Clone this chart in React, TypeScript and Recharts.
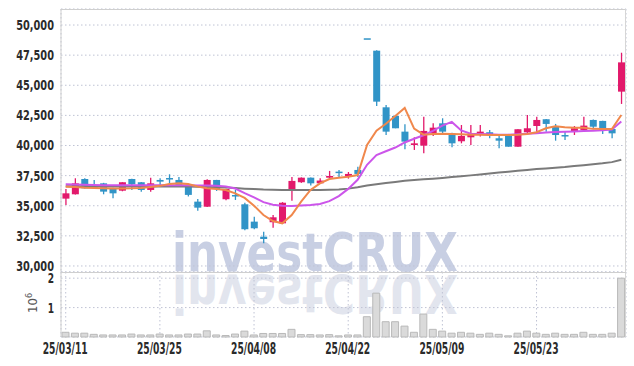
import { Bar, BarChart, CartesianGrid, ComposedChart, Line, XAxis, YAxis } from 'recharts'

const dates = [
  '25/03/11', '25/03/12', '25/03/13', '25/03/14', '25/03/17', '25/03/18', '25/03/19', '25/03/20', '25/03/21', '25/03/24',
  '25/03/25', '25/03/26', '25/03/27', '25/03/28', '25/03/31', '25/04/01', '25/04/02', '25/04/03', '25/04/04', '25/04/07',
  '25/04/08', '25/04/09', '25/04/10', '25/04/11', '25/04/14', '25/04/15', '25/04/16', '25/04/17', '25/04/18', '25/04/21',
  '25/04/22', '25/04/23', '25/04/24', '25/04/25', '25/04/28', '25/04/29', '25/04/30', '25/05/02', '25/05/07', '25/05/08',
  '25/05/09', '25/05/12', '25/05/13', '25/05/14', '25/05/15', '25/05/16', '25/05/19', '25/05/20', '25/05/21', '25/05/22',
  '25/05/23', '25/05/26', '25/05/27', '25/05/28', '25/05/29', '25/05/30', '25/06/02', '25/06/04', '25/06/05', '25/06/09',
]

const opens = [
  35590, 35950, 37220, 36600, 36860, 36450, 36250, 37220, 36950, 36310,
  37140, 37300, 37140, 36670, 35340, 34920, 37140, 35540, 35890, 35120,
  33680, 32430, 33630, 33540, 36310, 36950, 37330, 36860, 37330, 37830,
  37410, 37970, 48900, 47870, 43170, 42450, 41150, 40040, 39990, 41010,
  41840, 41010, 40350, 40680, 40960, 41100, 40600, 40790, 39900, 41100,
  41620, 42180, 41560, 40870, 41150, 41290, 42120, 42040, 41370, 44470,
]
const highs = [
  36390, 37280, 37280, 37140, 36900, 36500, 36950, 37250, 36970, 37330,
  37280, 37610, 37390, 36700, 35560, 37200, 37150, 36400, 36310, 35250,
  34090, 32850, 34230, 35300, 37390, 37350, 37350, 37280, 37890, 37970,
  37800, 38240, 48900, 47900, 43360, 42500, 41760, 40680, 42390, 41840,
  42260, 41050, 41700, 41700, 41700, 41290, 40790, 40800, 41350, 42530,
  42390, 42200, 41790, 41150, 41620, 42390, 42150, 42050, 41400, 47700,
]
const lows = [
  35060, 35930, 36430, 36390, 35950, 35620, 36200, 36310, 36170, 36170,
  36580, 36860, 36600, 35770, 34590, 34900, 36230, 35450, 35480, 32960,
  33050, 31880, 33180, 33500, 35420, 36900, 36670, 36810, 37280, 37390,
  37250, 37390, 48900, 43280, 40870, 41430, 39690, 39630, 39350, 40790,
  41000, 39850, 40180, 40040, 40740, 40600, 39770, 39900, 39900, 41010,
  41150, 41150, 40400, 40460, 40870, 41150, 41350, 40960, 40600, 43450,
]
const closes = [
  36030, 36860, 36450, 36550, 36170, 36030, 36950, 36780, 36310, 36860,
  37000, 37200, 36670, 35900, 34840, 37140, 36390, 36390, 35850, 33050,
  33130, 32240, 34040, 35250, 37060, 37330, 36860, 37090, 37470, 37720,
  37640, 37640, 48900, 43640, 41150, 41430, 40320, 40180, 41210, 41480,
  41150, 40180, 40790, 40960, 41150, 40870, 40400, 39900, 41350, 41430,
  42120, 41790, 40870, 40790, 41430, 41650, 41560, 41230, 41010, 46900,
]

// volume in millions of shares
const volumes = [
  0.16, 0.13, 0.13, 0.09, 0.07, 0.07, 0.07, 0.1, 0.07, 0.07,
  0.1, 0.07, 0.07, 0.1, 0.1, 0.21, 0.07, 0.05, 0.1, 0.2,
  0.07, 0.12, 0.12, 0.12, 0.26, 0.08, 0.08, 0.07, 0.08, 0.04,
  0.07, 0.07, 0.69, 1.49, 0.52, 0.52, 0.37, 0.16, 0.78, 0.26,
  0.2, 0.13, 0.16, 0.13, 0.09, 0.13, 0.09, 0.04, 0.13, 0.2,
  0.13, 0.09, 0.13, 0.09, 0.09, 0.16, 0.09, 0.09, 0.13, 2.0,
]

const ma5 = [
  36580, 36560, 36500, 36480, 36460, 36440, 36440, 36450, 36480, 36560,
  36650, 36800, 36860, 36800, 36600, 36450, 36380, 36300, 36030, 35650,
  35000, 34230, 33730, 33540, 34230, 35340, 36310, 36860, 37220, 37330,
  37410, 37550, 40040, 41230, 41800, 42450, 43120, 41400, 40900, 40950,
  40980, 40950, 40930, 40900, 40900, 40880, 40870, 40880, 40900, 40950,
  41100, 41430, 41600, 41520, 41480, 41480, 41380, 41370, 41370, 42530,
]
const ma20 = [
  36780, 36760, 36740, 36720, 36700, 36700, 36700, 36700, 36700, 36700,
  36700, 36700, 36700, 36700, 36690, 36680, 36660, 36600, 36430, 36050,
  35700, 35300, 35080, 34990, 34980, 35020, 35060, 35150, 35380, 35800,
  36400, 37150, 38400, 39200, 39520, 39830, 40250, 40560, 40850, 41220,
  41650, 41960, 41250, 40980, 40950, 40930, 40900, 40900, 40930, 40970,
  41020, 41080, 41120, 41140, 41170, 41200, 41230, 41260, 41330, 42000,
]
const ma60 = [
  36620, 36620, 36610, 36610, 36600, 36600, 36600, 36600, 36590, 36590,
  36600, 36600, 36600, 36590, 36570, 36560, 36540, 36510, 36470, 36420,
  36380, 36340, 36320, 36310, 36300, 36300, 36300, 36310, 36320, 36340,
  36420, 36540, 36680, 36790, 36880, 36980, 37080, 37140, 37190, 37250,
  37310, 37380, 37450, 37520, 37600, 37680, 37750, 37820, 37900, 37970,
  38040, 38100, 38160, 38220, 38300, 38370, 38440, 38520, 38620, 38820,
]

const priceTicks = [30000, 32500, 35000, 37500, 40000, 42500, 45000, 47500, 50000]
const volumeTicks = [1, 2]

const UP = '#e2196b'
const DOWN = '#3194c7'
const GRID = '#bfc3d4'
const FONT = "'DejaVu Sans Condensed', 'DejaVu Sans', sans-serif"

const rows = dates.map((date, i) => ({
  date,
  open: opens[i],
  high: highs[i],
  low: lows[i],
  close: closes[i],
  range: [lows[i], highs[i]],
  volume: volumes[i],
  ma5: ma5[i],
  ma20: ma20[i],
  ma60: ma60[i],
}))

function Candle(props: any) {
  const { x, y, width, height, payload } = props
  const { open, close, high, low } = payload
  const color = close > open ? UP : DOWN
  const cx = x + width / 2
  const span = high - low
  const ratio = span > 0 ? height / span : 0
  const yOf = (v: number) => y + (high - v) * ratio
  const top = yOf(Math.max(open, close))
  const bottom = yOf(Math.min(open, close))
  const bodyH = Math.max(bottom - top, 1.5)
  return (
    <g>
      <line x1={cx} x2={cx} y1={y} y2={y + height} stroke={color} strokeWidth={1.3} />
      <rect x={cx - 3.5} y={top} width={7} height={bodyH} fill={color} />
    </g>
  )
}

// narrow bold labels, squeezed to the reference's width
function YTick(props: any) {
  const { x, y, payload, fmt } = props
  const label = fmt ? fmt(payload.value) : String(payload.value)
  return (
    <text x={x + 1} y={y} dy={5} textAnchor="end" textLength={label.length * 6.3} lengthAdjust="spacingAndGlyphs"
      fontFamily={FONT} fontSize={14.5} fontWeight={700} fill="#2b2b2b">
      {label}
    </text>
  )
}

function XTick(props: any) {
  const { x, y, payload } = props
  return (
    <text x={x - 0.5} y={y} dy={10.5} textAnchor="middle" textLength={45} lengthAdjust="spacingAndGlyphs"
      fontFamily={FONT} fontSize={15} fontWeight={700} fill="#2b2b2b">
      {payload.value}
    </text>
  )
}

const fmtPrice = (v: number) => v.toLocaleString('en-US')

export default function App() {
  return (
    <div style={{ position: 'absolute', left: 0, top: 0, width: 634, height: 366, background: '#fff' }}>
      <svg width={634} height={366} style={{ position: 'absolute', left: 0, top: 0 }}>
        <text x={172} y={271} textLength={286} lengthAdjust="spacingAndGlyphs"
          fontFamily="'DejaVu Sans', sans-serif" fontWeight={700} fontSize={53} fill="#c8cfe3">
          investCRUX
        </text>
        <text x={172} y={271} textLength={286} lengthAdjust="spacingAndGlyphs" transform="translate(0 546) scale(1 -1)"
          fontFamily="'DejaVu Sans', sans-serif" fontWeight={700} fontSize={53} fill="#e2e5ee">
          investCRUX
        </text>
      </svg>

      <div style={{ position: 'absolute', left: 0, top: 0 }}>
        <ComposedChart width={634} height={290} data={rows} margin={{ top: 9, right: 8, bottom: 18, left: 0 }}>
          <CartesianGrid stroke={GRID} strokeDasharray="1.5 2.5" />
          <XAxis dataKey="date" interval={9} tick={false} tickLine={false} axisLine={false} height={0} />
          <YAxis domain={[29500, 51330]} ticks={priceTicks} interval={0} width={61} tickLine={false}
            axisLine={{ stroke: '#cfcfcf' }} tick={<YTick fmt={fmtPrice} />} />
          <Bar dataKey="range" shape={<Candle />} isAnimationActive={false} />
          <Line type="linear" dataKey="ma60" stroke="#7a7a7a" strokeWidth={2} dot={false} isAnimationActive={false} />
          <Line type="linear" dataKey="ma20" stroke="#cc55ea" strokeWidth={2} dot={false} isAnimationActive={false} />
          <Line type="linear" dataKey="ma5" stroke="#f0884c" strokeWidth={2} dot={false} isAnimationActive={false} />
        </ComposedChart>
      </div>

      <div style={{ position: 'absolute', left: 0, top: 262 }}>
        <BarChart width={634} height={104} data={rows} barCategoryGap={1} margin={{ top: 10, right: 8, bottom: 0, left: 0 }}>
          <CartesianGrid stroke={GRID} strokeDasharray="1.5 2.5" />
          <XAxis dataKey="date" interval={9} tickLine={false} axisLine={false} height={29} tickMargin={0} tick={<XTick />} />
          <YAxis domain={[0, 2.21]} ticks={volumeTicks} interval={0} width={61} tickLine={false}
            axisLine={{ stroke: '#cfcfcf' }} tick={<YTick />} />
          <Bar dataKey="volume" fill="#dadada" stroke="#b9b9b9" strokeWidth={1} isAnimationActive={false} />
        </BarChart>
      </div>

      <svg width={634} height={366} style={{ position: 'absolute', left: 0, top: 0, pointerEvents: 'none' }}>
        <line x1={61} x2={626} y1={9.5} y2={9.5} stroke="#cfcfcf" />
        <line x1={625.5} x2={625.5} y1={9} y2={337} stroke="#d6d6d6" />
        <line x1={61} x2={626} y1={272.5} y2={272.5} stroke="#cfcfcf" />
        <text transform="translate(37 313) rotate(-90)" fontFamily={FONT} fontSize={13} fill="#555">
          10<tspan dy={-5} fontSize={9}>6</tspan>
        </text>
      </svg>
    </div>
  )
}
